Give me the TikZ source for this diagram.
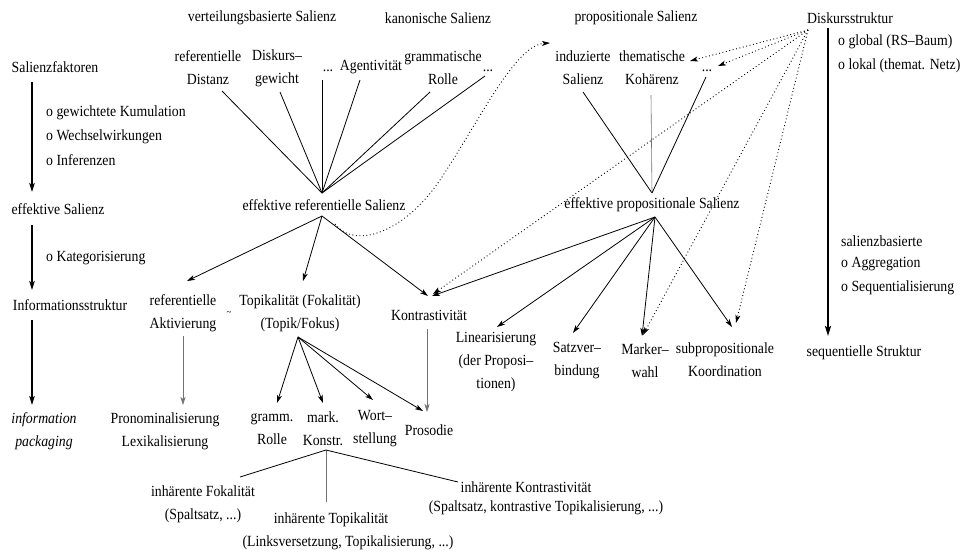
\documentclass[tikz,border=0pt]{standalone}
\usepackage{fontspec}
\setmainfont{Liberation Serif}[FakeStretch=0.89]
\usetikzlibrary{arrows.meta}
\begin{document}
\begin{tikzpicture}[x=1pt,y=-1pt,
  every node/.style={font=\fontsize{15.5}{23}\selectfont, inner sep=1pt, align=center},
  cline/.style={line width=0.8pt},
  gline/.style={line width=0.6pt, draw=black!55},
  carrow/.style={cline, -{Stealth[length=8pt,width=5pt,inset=2pt]}},
  garrow/.style={gline, -{Stealth[length=8pt,width=5pt,inset=2pt]}},
  darrow/.style={line width=0.9pt, dash pattern=on 0.9pt off 2.6pt, -{Stealth[length=8pt,width=5pt,inset=2pt]}},
  tarrow/.style={line width=1.3pt, -{Stealth[length=9pt,width=5.5pt,inset=2pt]}},
  barrow/.style={line width=2.2pt, -{Stealth[length=10pt,width=6pt,inset=2pt]}},
  ]
\fill[white] (0,0) rectangle (966,555);
\useasboundingbox (0,0) rectangle (966,555);

% headings
\node (vbS) at (262,18) {verteilungsbasierte Salienz};
\node (kanS) at (438,18) {kanonische Salienz};
\node (propS) at (636,18) {propositionale Salienz};
\node (disk) at (850,18) {Diskursstruktur};

% left column
\node (sf) at (55,67) {Salienzfaktoren};
\node[anchor=west] (gk) at (45,113) {o gewichtete Kumulation};
\node[anchor=west] (ww) at (45,137) {o Wechselwirkungen};
\node[anchor=west] (inf) at (45,160) {o Inferenzen};
\node (es) at (58,209) {effektive Salienz};
\node[anchor=west] (kat) at (45,258) {o Kategorisierung};
\node (is) at (70,305) {Informationsstruktur};
\node[font=\fontsize{15.5}{23}\selectfont\itshape] (ip) at (44,431) {information\\packaging};

% referential factors
\node (rd) at (208,68) {referentielle\\Distanz};
\node (dg) at (277,68) {Diskurs--\\gewicht};
\node (d1) at (328,71) {...};
\node (ag) at (371,67) {Agentivität};
\node (gr) at (443,68) {grammatische\\Rolle};
\node (d2) at (488,71) {...};

% propositional factors
\node (indS) at (583,68) {induzierte\\Salienz};
\node (thK) at (652,68) {thematische\\Kohärenz};
\node (d3) at (707,71) {...};

\node (effref) at (324,205) {effektive referentielle Salienz};
\node (effprop) at (652,205) {effektive propositionale Salienz};

% right column
\node[anchor=west] (glob) at (837,42) {o global (RS--Baum)};
\node[anchor=west] (lok) at (837,66) {o lokal (themat. Netz)};
\node[anchor=west] (sb) at (840,241) {salienzbasierte};
\node[anchor=west] (agg) at (840,264) {o Aggregation};
\node[anchor=west] (seqz) at (840,288) {o Sequentialisierung};
\node (seqS) at (864,353) {sequentielle Struktur};

% second row
\node (refAkt) at (183,313) {referentielle\\Aktivierung};
\node[font=\fontsize{10}{12}\selectfont] (tilde) at (229,313) {\textasciitilde};
\node (topik) at (300,313) {Topikalität (Fokalität)\\(Topik/Fokus)};
\node (kontr) at (429,315) {Kontrastivität};
\node (lin) at (496,362) {Linearisierung\\(der Proposi--\\tionen)};
\node (satz) at (577,361) {Satzver--\\bindung};
\node (mark) at (645,361) {Marker--\\wahl};
\node (subp) at (725,360) {subpropositionale\\Koordination};

% third row
\node (PL) at (165,431) {Pronominalisierung\\Lexikalisierung};
\node (gR) at (272,429) {gramm.\\Rolle};
\node (mK) at (323,429) {mark.\\Konstr.};
\node (ws) at (375,429) {Wort--\\stellung};
\node (pros) at (429,430) {Prosodie};
\node (iF) at (203,504) {inhärente Fokalität\\(Spaltsatz, ...)};
\node (iT) at (331,520) {inhärente Topikalität};
\node (iTp) at (348,543) {(Linksversetzung, Topikalisierung, ...)};
\node (iK) at (526,487) {inhärente Kontrastivität};
\node (iKp) at (546,508) {(Spaltsatz, kontrastive Topikalisierung, ...)};

% left column arrows
\draw[tarrow] ([shift={(-23,15)}]sf.center) -- ([shift={(-26,-17)}]es.center);
\draw[tarrow] ([shift={(-26,16)}]es.center) -- ([shift={(-38,-15)}]is.center);
\draw[tarrow] ([shift={(-38,15)}]is.center) -- ([shift={(-12,-26)}]ip.center);

% right column arrow
\draw[barrow] ([shift={(-22,10)}]disk.center) -- ([shift={(-36,-17)}]seqS.center);

% fan into effektive referentielle Salienz
\draw[cline] ([shift={(14,23)}]rd.center) -- ([shift={(-2,-12)}]effref.center);
\draw[cline] ([shift={(3,24)}]dg.center) -- ([shift={(-2,-12)}]effref.center);
\draw[cline] ([shift={(-6,9)}]d1.center) -- ([shift={(-2,-12)}]effref.center);
\draw[cline] ([shift={(-11,13)}]ag.center) -- ([shift={(-2,-12)}]effref.center);
\draw[cline] ([shift={(-13,24)}]gr.center) -- ([shift={(-2,-12)}]effref.center);
\draw[cline] ([shift={(-3,5)}]d2.center) -- ([shift={(-2,-12)}]effref.center);

% fan into effektive propositionale Salienz
\draw[cline] ([shift={(0,24)}]indS.center) -- ([shift={(0,-12)}]effprop.center);
\draw[gline] ([shift={(-1,27)}]thK.center) -- ([shift={(0,-12)}]effprop.center);
\draw[cline] ([shift={(-1,6)}]d3.center) -- ([shift={(0,-12)}]effprop.center);

% from effektive referentielle Salienz
\draw[carrow] ([shift={(-2,11)}]effref.center) -- ([shift={(4,-32)}]refAkt.center);
\draw[carrow] ([shift={(-2,11)}]effref.center) -- ([shift={(3,-32)}]topik.center);
\draw[carrow] ([shift={(-2,11)}]effref.center) -- ([shift={(-1,-19)}]kontr.center);

% from effektive propositionale Salienz
\draw[carrow] ([shift={(3,12)}]effprop.center) -- ([shift={(3,-19)}]kontr.center);
\draw[carrow] ([shift={(3,12)}]effprop.center) -- ([shift={(1,-35)}]lin.center);
\draw[carrow] ([shift={(3,12)}]effprop.center) -- ([shift={(-4,-28)}]satz.center);
\draw[carrow] ([shift={(3,12)}]effprop.center) -- ([shift={(-3,-25)}]mark.center);
\draw[carrow] ([shift={(3,12)}]effprop.center) -- ([shift={(7,-33)}]subp.center);

% dotted from Diskursstruktur
\draw[darrow] ([shift={(-42,12)}]disk.center) -- ([shift={(38,-7)}]thK.center);
\draw[darrow] ([shift={(-42,12)}]disk.center) -- ([shift={(11,-5)}]d3.center);
\draw[darrow] ([shift={(-42,12)}]disk.center) -- ([shift={(4,-21)}]kontr.center);
\draw[darrow] ([shift={(-42,12)}]disk.center) -- ([shift={(-2,-26)}]mark.center);
\draw[darrow] ([shift={(-42,12)}]disk.center) -- ([shift={(11,-37)}]subp.center);

% dotted curve
\draw[darrow] ([shift={(11,19)}]effref.center) .. controls (355,250) and (405,232) .. (440,180)
  .. controls (480,120) and (515,45) .. ([shift={(-33,-25)}]indS.center);

% lower arrows
\draw[garrow] ([shift={(0,23)}]refAkt.center) -- ([shift={(18,-26)}]PL.center);
\draw[carrow] ([shift={(-2,24)}]topik.center) -- ([shift={(5,-26)}]gR.center);
\draw[carrow] ([shift={(-2,24)}]topik.center) -- ([shift={(0,-26)}]mK.center);
\draw[carrow] ([shift={(-2,24)}]topik.center) -- ([shift={(-2,-29)}]ws.center);
\draw[carrow] ([shift={(-2,24)}]topik.center) -- ([shift={(-6,-19)}]pros.center);
\draw[garrow] ([shift={(-2,14)}]kontr.center) -- ([shift={(-2,-18)}]pros.center);

% inherent
\draw[cline] ([shift={(3,21)}]mK.center) -- ([shift={(37,-27)}]iF.center);
\draw[gline] ([shift={(3,21)}]mK.center) -- ([shift={(-5,-18)}]iT.center);
\draw[cline] ([shift={(3,21)}]mK.center) -- ([shift={(-68,-5)}]iK.center);
\end{tikzpicture}
\end{document}
